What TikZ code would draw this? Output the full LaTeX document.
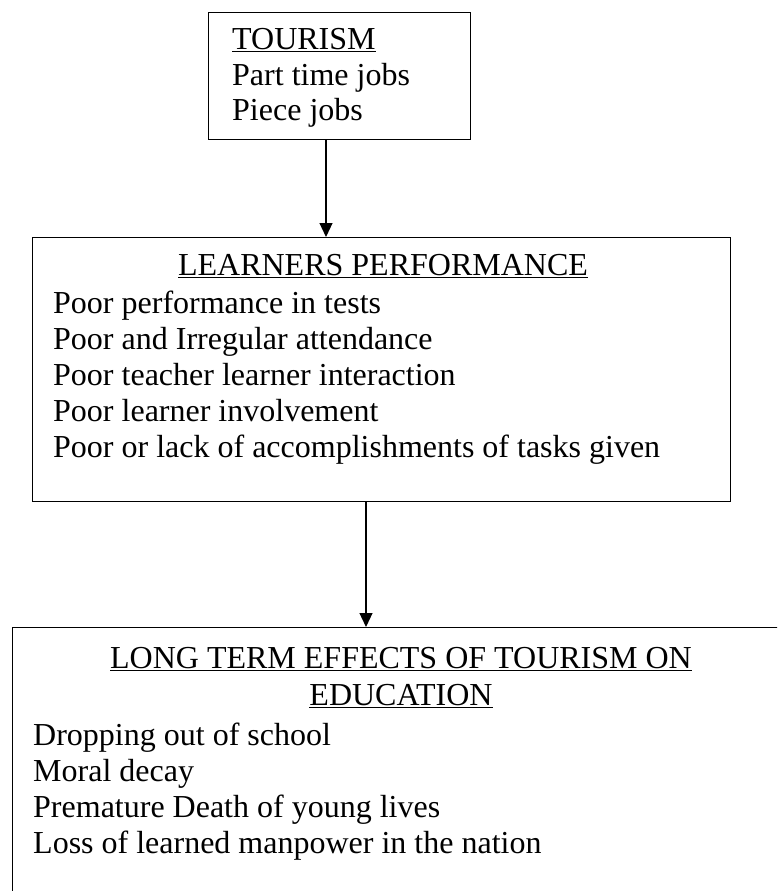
\documentclass[tikz,border=0pt]{standalone}
\usepackage{fontspec}
\setmainfont{Liberation Serif}
\usetikzlibrary{arrows.meta}
\begin{document}
\begin{tikzpicture}[x=1pt,y=-1pt,
  boxstyle/.style={draw,line width=1.2pt,inner sep=0pt},
  txt/.style={inner sep=0pt,font=\fontsize{32}{36}\selectfont},
  arr/.style={line width=1.2pt,-{Triangle[width=13pt,length=14pt]}}]
\useasboundingbox (0,0) rectangle (777,891);
\begin{scope}
\clip (0,0) rectangle (777,891);
% boxes
\node[boxstyle,minimum width=262pt,minimum height=127pt,anchor=north west] (tour) at (208,12) {};
\node[boxstyle,minimum width=698pt,minimum height=264pt,anchor=north west] (perf) at (32,237) {};
\node[boxstyle,minimum width=820pt,minimum height=320pt,anchor=north west] (eff) at (12,627) {};
\end{scope}
% top box text
\node[txt,anchor=base west] (t1) at (232,49) {\underline{TOURISM}};
\node[txt,anchor=base west] (t2) at (232,85) {Part time jobs};
\node[txt,anchor=base west] (t3) at (232,120) {Piece jobs};
% middle box text
\node[txt,anchor=base] (p0) at (383,275) {\underline{LEARNERS PERFORMANCE}};
\node[txt,anchor=base west] (p1) at (53,313) {Poor performance in tests};
\node[txt,anchor=base west] (p2) at (53,349) {Poor and Irregular attendance};
\node[txt,anchor=base west] (p3) at (53,385) {Poor teacher learner interaction};
\node[txt,anchor=base west] (p4) at (53,421) {Poor learner involvement};
\node[txt,anchor=base west] (p5) at (53,457) {Poor or lack of accomplishments of tasks given};
% bottom box text
\node[txt,anchor=base] (e0) at (401,668) {\underline{LONG TERM EFFECTS OF TOURISM ON}};
\node[txt,anchor=base] (e1) at (401,705) {\underline{EDUCATION}};
\node[txt,anchor=base west] (e2) at (33,745) {Dropping out of school};
\node[txt,anchor=base west] (e3) at (33,781) {Moral decay};
\node[txt,anchor=base west] (e4) at (33,817) {Premature Death of young lives};
\node[txt,anchor=base west] (e5) at (33,853) {Loss of learned manpower in the nation};
% connectors
\coordinate (a1) at (326,0);
\coordinate (a2) at (366,0);
\draw[arr] (a1 |- tour.south) -- (a1 |- perf.north);
\draw[arr] (a2 |- perf.south) -- (a2 |- eff.north);
\end{tikzpicture}
\end{document}
